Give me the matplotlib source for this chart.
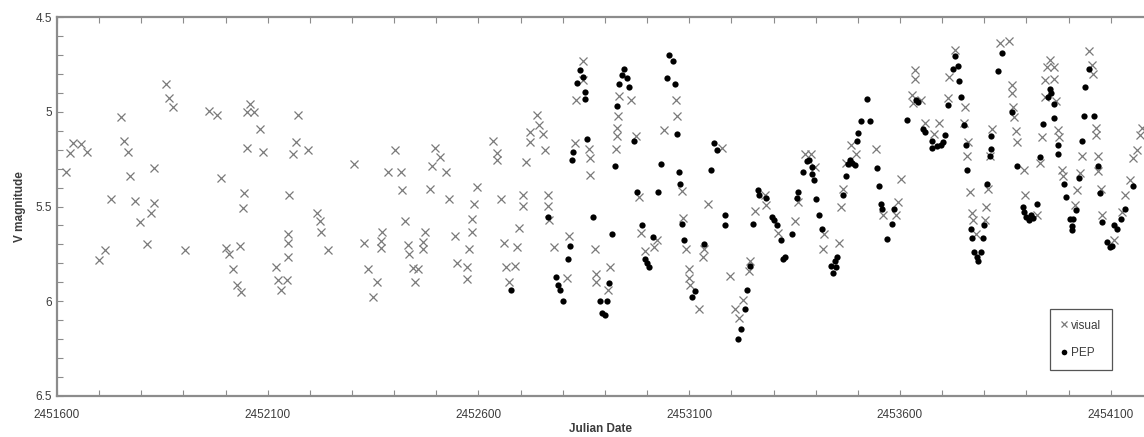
#==============================================================================
# V magnitude light curve, visual estimates vs PEP photometry
#==============================================================================
import numpy as np
import matplotlib
matplotlib.use('Agg')
import matplotlib.pyplot as plt
from matplotlib.ticker import FixedLocator, MultipleLocator, FormatStrFormatter

jd0 = 2451600 # days below are counted from this Julian Date

# visual estimates (days after jd0, V mag)
visDays = [22, 32, 37, 57, 71, 99, 115, 128, 153, 160, 169, 174, 186, 198, 213,
           224, 229, 231, 259, 266, 275, 304, 360, 380, 388, 401, 407, 417, 427,
           435, 436, 442, 444, 451, 451, 458, 467, 482, 488, 520, 525, 531, 545,
           547, 547, 547, 551, 561, 566, 571, 596, 616, 624, 626, 644, 704, 729,
           737, 749, 760, 768, 769, 770, 786, 803, 816, 819, 826, 833, 836, 845,
           849, 857, 868, 869, 873, 885, 889, 898, 909, 924, 930, 944, 948, 972,
           972, 978, 984, 985, 990, 997, 1035, 1043, 1043, 1053, 1060, 1065, 1073,
           1087, 1092, 1097, 1105, 1105, 1112, 1122, 1122, 1138, 1144, 1152, 1159,
           1164, 1166, 1168, 1180, 1209, 1215, 1229, 1231, 1248, 1249, 1262, 1265,
           1265, 1276, 1280, 1280, 1308, 1312, 1326, 1328, 1329, 1332, 1334, 1363,
           1374, 1381, 1385, 1395, 1416, 1423, 1440, 1469, 1470, 1482, 1486, 1492,
           1500, 1500, 1503, 1524, 1532, 1535, 1545, 1577, 1597, 1608, 1619, 1628,
           1642, 1644, 1656, 1680, 1681, 1711, 1751, 1759, 1775, 1788, 1798, 1818,
           1820, 1856, 1859, 1866, 1873, 1885, 1896, 1943, 1960, 1990, 1995, 2002,
           2028, 2031, 2035, 2035, 2051, 2059, 2081, 2093, 2115, 2117, 2130, 2151,
           2154, 2159, 2162, 2167, 2172, 2173, 2181, 2201, 2204, 2209, 2213, 2219,
           2237, 2259, 2265, 2265, 2269, 2271, 2275, 2277, 2294, 2297, 2324, 2333,
           2337, 2344, 2344, 2348, 2356, 2365, 2366, 2371, 2376, 2378, 2384, 2386,
           2415, 2421, 2427, 2431, 2449, 2455, 2457, 2464, 2464, 2470, 2470, 2477,
           2480, 2509, 2527, 2533, 2546, 2552, 2562, 2569, 2574]
visMag = [5.32, 5.22, 5.165, 5.17, 5.21, 5.78, 5.73, 5.46, 5.03, 5.155, 5.21, 5.34,
          5.47, 5.58, 5.70, 5.535, 5.48, 5.295, 4.855, 4.925, 4.975, 5.73, 4.995,
          5.015, 5.35, 5.72, 5.75, 5.83, 5.915, 5.71, 5.95, 5.51, 5.43, 5.00, 5.19,
          4.96, 5.00, 5.09, 5.21, 5.82, 5.89, 5.94, 5.89, 5.765, 5.695, 5.645, 5.44,
          5.225, 5.16, 5.015, 5.20, 5.535, 5.575, 5.635, 5.73, 5.275, 5.69, 5.83,
          5.975, 5.90, 5.72, 5.68, 5.635, 5.32, 5.20, 5.32, 5.415, 5.575, 5.705,
          5.75, 5.825, 5.90, 5.83, 5.725, 5.685, 5.635, 5.41, 5.285, 5.19, 5.24,
          5.32, 5.46, 5.655, 5.80, 5.82, 5.885, 5.725, 5.635, 5.565, 5.485, 5.395,
          5.155, 5.22, 5.255, 5.46, 5.69, 5.82, 5.90, 5.815, 5.715, 5.615, 5.44,
          5.495, 5.265, 5.105, 5.16, 5.015, 5.07, 5.115, 5.20, 5.44, 5.495, 5.57,
          5.715, 5.875, 5.655, 5.165, 4.94, 4.83, 4.73, 5.195, 5.245, 5.335, 5.725,
          5.855, 5.90, 5.94, 5.82, 5.195, 5.13, 5.085, 5.02, 4.915, 4.94, 5.13,
          5.45, 5.64, 5.735, 5.715, 5.675, 5.095, 4.94, 5.025, 5.42, 5.56, 5.725,
          5.83, 5.875, 5.915, 6.04, 5.765, 5.725, 5.485, 5.19, 5.865, 6.04, 6.09,
          5.995, 5.84, 5.79, 5.525, 5.44, 5.49, 5.64, 5.575, 5.475, 5.225, 5.225,
          5.29, 5.725, 5.645, 5.69, 5.505, 5.41, 5.27, 5.175, 5.225, 5.195, 5.545,
          5.545, 5.475, 5.355, 4.91, 4.955, 4.78, 4.825, 4.94, 5.06, 5.115, 5.06,
          4.93, 4.815, 4.675, 5.06, 4.975, 5.235, 5.16, 5.425, 5.535, 5.57, 5.645,
          5.57, 5.505, 5.41, 5.235, 5.09, 4.635, 4.625, 4.86, 4.90, 4.975, 5.03,
          5.10, 5.16, 5.305, 5.44, 5.545, 5.27, 5.135, 4.92, 4.835, 4.765, 4.725,
          4.765, 4.825, 4.945, 5.095, 5.135, 5.305, 5.34, 5.49, 5.415, 5.325, 5.235,
          4.68, 4.755, 4.80, 5.085, 5.125, 5.235, 5.315, 5.41, 5.545, 5.675, 5.53,
          5.44, 5.36, 5.245, 5.20, 5.125, 5.085]

# photoelectric photometry (days after jd0, V mag)
pepDays = [1076, 1166, 1184, 1188, 1193, 1201, 1212, 1217, 1222, 1224, 1234, 1241,
           1247, 1253, 1253, 1258, 1271, 1288, 1292, 1300, 1304, 1310, 1316, 1325,
           1329, 1333, 1340, 1345, 1353, 1358, 1369, 1377, 1387, 1395, 1399, 1404,
           1415, 1427, 1432, 1447, 1453, 1461, 1466, 1472, 1476, 1478, 1484, 1488,
           1507, 1514, 1536, 1551, 1559, 1566, 1585, 1585, 1615, 1624, 1632, 1638,
           1644, 1652, 1664, 1666, 1681, 1696, 1700, 1708, 1718, 1723, 1727, 1743,
           1755, 1759, 1769, 1779, 1785, 1791, 1792, 1797, 1801, 1808, 1814, 1836,
           1842, 1846, 1848, 1851, 1864, 1871, 1877, 1881, 1887, 1893, 1899, 1901,
           1907, 1921, 1930, 1946, 1951, 1954, 1957, 1969, 1982, 1987, 2017, 2039,
           2043, 2054, 2059, 2075, 2077, 2087, 2097, 2103, 2107, 2113, 2126, 2130,
           2137, 2141, 2145, 2151, 2156, 2158, 2168, 2172, 2175, 2183, 2186, 2193,
           2197, 2199, 2207, 2213, 2215, 2217, 2232, 2243, 2265, 2277, 2292, 2294,
           2300, 2306, 2311, 2316, 2324, 2333, 2340, 2351, 2357, 2359, 2365, 2365,
           2376, 2376, 2389, 2394, 2403, 2409, 2409, 2411, 2418, 2424, 2431, 2436,
           2438, 2449, 2460, 2470, 2474, 2480, 2492, 2498, 2503, 2509, 2515, 2525,
           2535, 2554]
pepMag = [5.94, 5.555, 5.87, 5.915, 5.94, 6.00, 5.775, 5.71, 5.255, 5.21, 4.85, 4.78,
          4.815, 4.895, 4.935, 5.145, 5.555, 6.00, 6.06, 6.075, 6.00, 5.905, 5.645,
          5.285, 4.97, 4.855, 4.805, 4.775, 4.82, 4.87, 5.155, 5.425, 5.60, 5.775,
          5.80, 5.82, 5.66, 5.425, 5.275, 4.82, 4.70, 4.73, 4.855, 5.115, 5.32, 5.38,
          5.59, 5.675, 5.98, 5.945, 5.70, 5.31, 5.165, 5.20, 5.545, 5.60, 6.20,
          6.145, 6.04, 5.94, 5.815, 5.59, 5.415, 5.44, 5.455, 5.555, 5.57, 5.60,
          5.675, 5.775, 5.765, 5.645, 5.455, 5.425, 5.32, 5.26, 5.255, 5.29, 5.33,
          5.36, 5.46, 5.545, 5.62, 5.815, 5.85, 5.79, 5.82, 5.765, 5.44, 5.34,
          5.275, 5.255, 5.27, 5.28, 5.155, 5.11, 5.05, 4.935, 5.05, 5.295, 5.39,
          5.485, 5.515, 5.67, 5.59, 5.515, 5.045, 4.94, 4.95, 5.09, 5.105, 5.19,
          5.155, 5.18, 5.175, 5.16, 5.125, 4.965, 4.775, 4.705, 4.76, 4.84, 4.92,
          5.07, 5.175, 5.31, 5.62, 5.665, 5.74, 5.765, 5.79, 5.74, 5.665, 5.60,
          5.38, 5.235, 5.195, 5.13, 4.785, 4.69, 5.00, 5.285, 5.50, 5.53, 5.555,
          5.57, 5.545, 5.56, 5.485, 5.24, 5.065, 4.92, 4.88, 4.90, 4.96, 5.035,
          5.175, 5.225, 5.38, 5.45, 5.565, 5.605, 5.625, 5.565, 5.52, 5.35, 5.155,
          5.02, 4.87, 4.775, 5.02, 5.285, 5.43, 5.58, 5.685, 5.715, 5.71, 5.60,
          5.62, 5.565, 5.515, 5.39]

xLabelTicks = [2451600, 2452100, 2452600, 2453100, 2453600, 2454100]
yLabelTicks = [4.5, 5.0, 5.5, 6.0, 6.5]

axisGrey = '#8c8c8c'
textGrey = '#3c3c3c'
#############################################################################
def main():
  plt.rcParams['font.family'] = ['Liberation Sans', 'DejaVu Sans']
  fig = plt.figure(figsize=(11.44, 4.37), dpi=100)
  ax = fig.add_axes([57/1144, 41/437, 1 - 57/1144, 379/437])

  ax.plot(jd0 + np.array(visDays), visMag, linestyle='none', marker='x',
          markersize=5.3, markeredgewidth=0.9, color='#7a7a7a', label='visual')
  ax.plot(jd0 + np.array(pepDays), pepMag, linestyle='none', marker='o',
          markersize=4.5, color='black', markeredgewidth=0, label='PEP')

  #-------------------------------------------------------
  ax.set_xlim(jd0, jd0 + 2579)
  ax.set_ylim(6.5, 4.5)
  ax.xaxis.set_major_locator(FixedLocator(xLabelTicks))
  ax.xaxis.set_minor_locator(MultipleLocator(100))
  ax.xaxis.set_major_formatter(FormatStrFormatter('%d'))
  ax.yaxis.set_major_locator(FixedLocator(yLabelTicks))
  ax.yaxis.set_minor_locator(MultipleLocator(0.1))
  ax.yaxis.set_major_formatter(FormatStrFormatter('%g'))
  ax.tick_params(which='both', direction='in', length=4, width=0.8,
                 color=axisGrey, labelsize=8.5, labelcolor=textGrey,
                 top=True, right=False)
  ax.tick_params(axis='x', pad=9)
  for side in ['left', 'top', 'bottom']:
    ax.spines[side].set_color(axisGrey)
    ax.spines[side].set_linewidth(1.6)
  ax.spines['right'].set_visible(False)

  ax.set_xlabel('Julian Date', fontsize=8.5, fontweight='bold', color=textGrey,
                labelpad=2)
  ax.set_ylabel('V magnitude', fontsize=8.5, fontweight='bold', color=textGrey,
                labelpad=7)

  leg = ax.legend(loc='upper right', bbox_to_anchor=((1112-57)/1087, (396-309)/379),
                  borderaxespad=0, fancybox=False, fontsize=8.5, labelspacing=1.3,
                  handlelength=0.6, handletextpad=0.3, borderpad=0.9,
                  markerscale=0.9, framealpha=1)
  leg.get_frame().set_edgecolor('#555555')
  leg.get_frame().set_linewidth(0.9)
  for t in leg.get_texts():
    t.set_color(textGrey)

  fig.savefig('out.png', dpi=100)
#############################################################################
if __name__ == '__main__':
  main()
